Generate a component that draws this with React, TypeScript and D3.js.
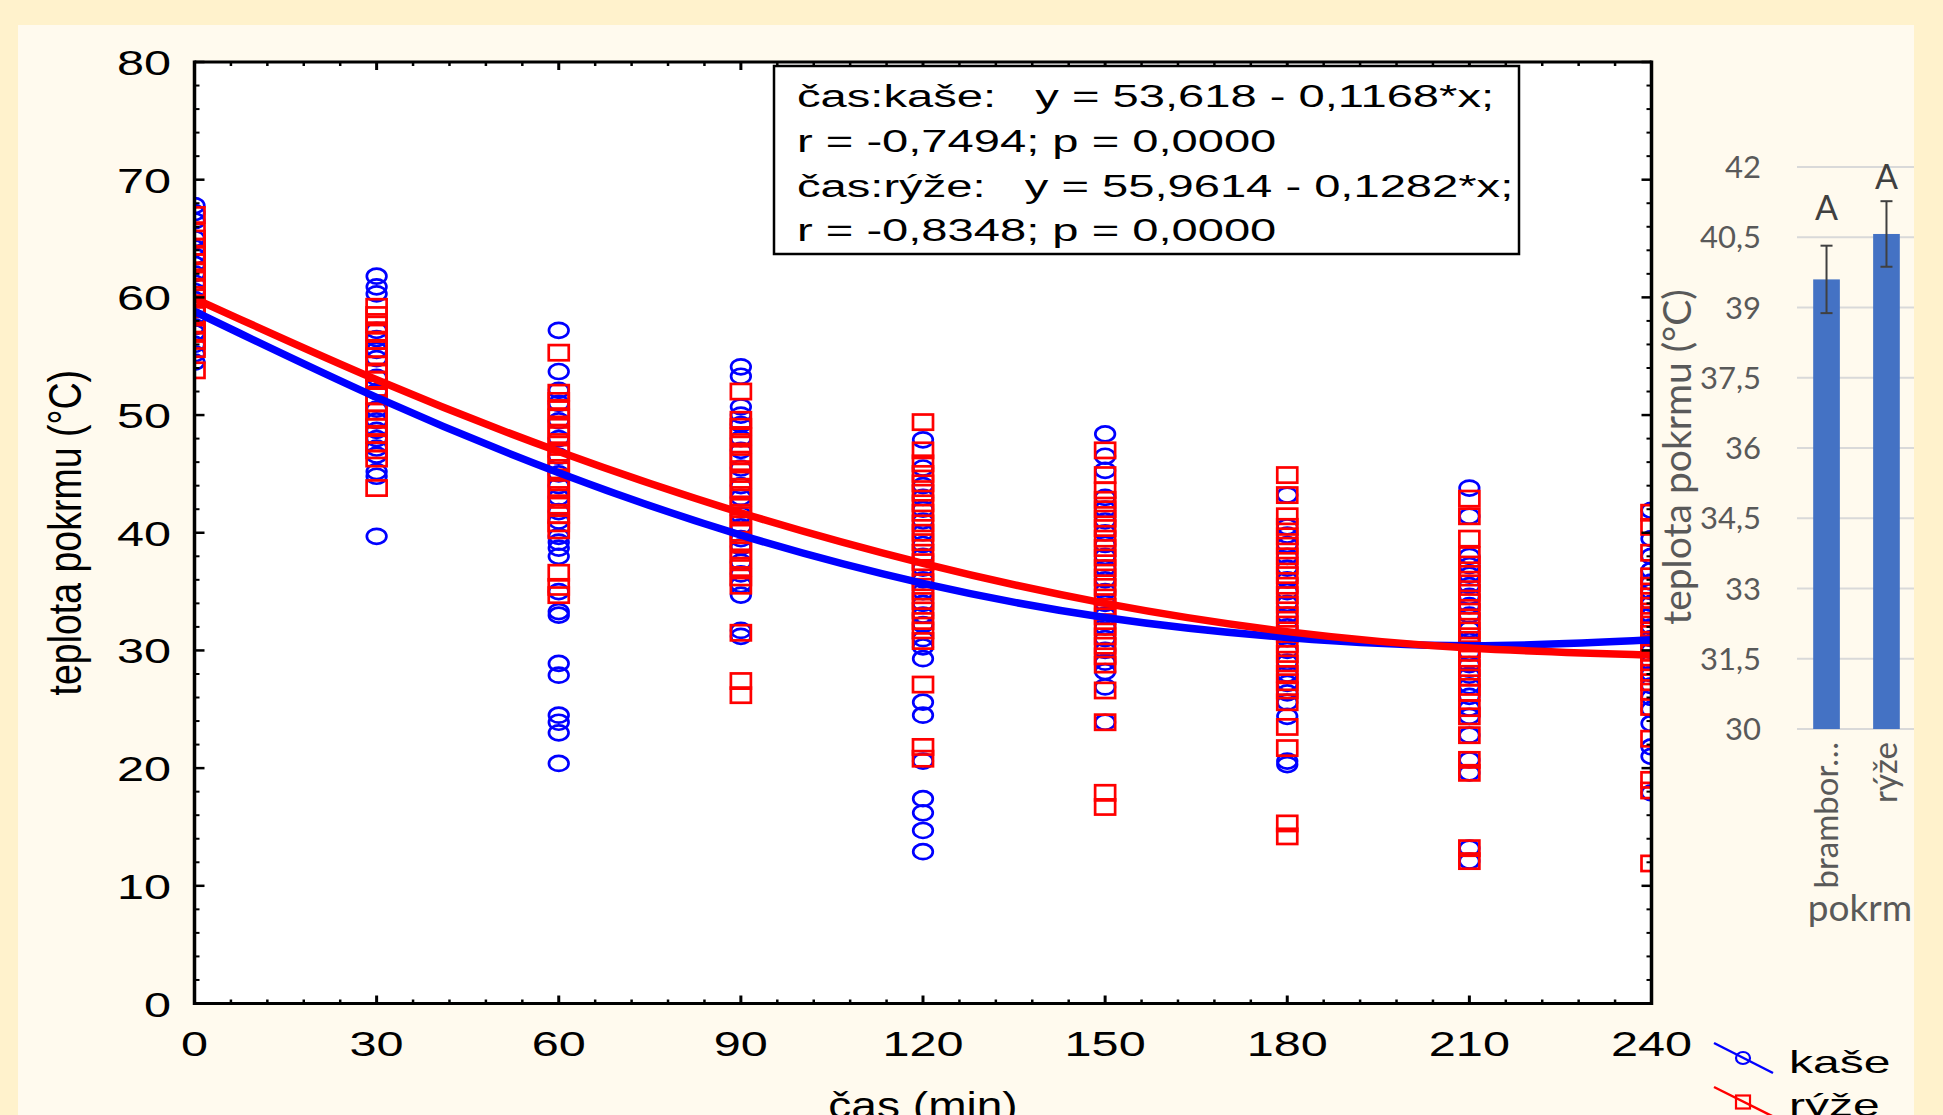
import React from 'react';
import * as d3 from 'd3';

// ---------- data ----------
const times = [0, 30, 60, 90, 120, 150, 180, 210, 240];

// individual measurements (teplota pokrmu, °C) per time point
const kaseValues: number[][] = [
  [67.8, 67.2, 66.5, 65.0, 64.2, 63.5, 62.8, 62.0, 61.2, 60.5, 59.8, 59.0, 58.3, 57.5, 57.0, 56.0, 55.2, 54.5],
  [61.8, 60.9, 60.3, 57.2, 56.5, 55.5, 54.8, 53.2, 52.0, 50.5, 49.5, 48.7, 48.0, 47.2, 46.6, 45.2, 44.8, 39.7],
  [57.2, 53.7, 52.1, 51.0, 49.5, 48.0, 46.5, 45.0, 44.0, 43.0, 41.8, 41.0, 39.7, 39.2, 38.7, 38.0, 35.0, 33.3, 33.0, 28.9, 27.9, 24.5, 23.9, 23.0, 20.4],
  [54.1, 53.3, 50.7, 50.0, 49.2, 48.0, 47.0, 45.5, 44.0, 43.0, 41.5, 40.5, 39.5, 38.8, 37.5, 36.5, 35.6, 34.7, 31.7, 31.2],
  [47.9, 45.5, 44.0, 43.0, 42.0, 41.0, 40.0, 39.0, 38.0, 37.0, 36.0, 35.0, 34.0, 33.0, 32.2, 31.0, 30.3, 29.3, 25.6, 24.5, 20.6, 17.4, 16.2, 14.7, 12.9],
  [48.4, 46.5, 45.3, 43.0, 42.0, 41.0, 40.0, 39.0, 38.0, 37.0, 36.0, 35.0, 34.0, 33.0, 32.0, 31.0, 30.0, 29.0, 28.2, 26.9, 23.9],
  [43.2, 40.5, 39.8, 39.0, 38.0, 37.0, 36.0, 35.0, 34.0, 33.0, 32.0, 31.0, 30.0, 29.0, 28.0, 27.2, 26.4, 25.6, 24.4, 20.6, 20.3],
  [43.8, 41.4, 38.0, 37.2, 36.4, 35.5, 34.6, 33.8, 33.0, 31.8, 30.8, 29.8, 28.8, 27.9, 27.0, 26.1, 25.1, 24.4, 22.8, 20.7, 19.6, 13.2, 12.1],
  [41.9, 39.5, 38.0, 36.8, 35.8, 35.0, 34.0, 33.0, 32.0, 31.0, 30.0, 29.0, 28.0, 27.0, 26.0, 25.0, 23.8, 21.8, 21.0, 17.9],
];

const ryzeValues: number[][] = [
  [67.0, 65.6, 65.0, 64.3, 63.6, 63.0, 62.2, 61.5, 60.8, 60.0, 59.3, 58.5, 57.7, 57.0, 56.3, 55.6, 53.8],
  [59.2, 58.5, 57.7, 57.0, 56.3, 55.6, 55.0, 54.3, 53.6, 53.0, 52.3, 51.6, 51.0, 50.3, 49.7, 49.0, 48.3, 47.6, 47.0, 46.3, 43.8],
  [55.3, 51.9, 51.2, 50.5, 49.8, 49.0, 48.3, 47.5, 46.8, 46.0, 45.3, 44.5, 43.8, 43.0, 42.3, 41.5, 40.8, 40.2, 36.6, 35.4, 34.7],
  [52.0, 49.6, 49.0, 48.2, 47.5, 46.7, 46.0, 45.2, 44.5, 43.7, 43.0, 42.2, 41.5, 40.7, 40.0, 39.2, 38.5, 37.7, 37.0, 36.2, 35.5, 31.5, 27.4, 26.2],
  [49.4, 47.0, 45.9, 45.0, 44.2, 43.4, 42.5, 41.7, 40.8, 40.0, 39.2, 38.3, 37.5, 36.7, 35.8, 35.0, 34.2, 33.4, 32.5, 31.7, 30.8, 27.1, 21.8, 20.8],
  [47.0, 44.9, 43.6, 42.8, 42.0, 41.2, 40.4, 39.5, 38.7, 37.9, 37.0, 36.2, 35.4, 34.5, 33.7, 32.9, 32.0, 31.2, 30.4, 29.5, 28.8, 26.6, 23.9, 17.9, 16.7],
  [44.9, 43.2, 41.4, 40.5, 39.7, 38.9, 38.0, 37.2, 36.4, 35.5, 34.7, 33.9, 33.0, 32.2, 31.4, 30.5, 29.7, 28.9, 28.0, 27.3, 26.6, 25.6, 23.5, 21.7, 15.3, 14.2],
  [42.9, 41.4, 39.5, 38.1, 37.3, 36.5, 35.7, 34.9, 34.1, 33.3, 32.5, 31.7, 30.9, 30.1, 29.3, 28.5, 27.7, 26.9, 26.4, 25.1, 24.4, 22.8, 20.7, 19.6, 13.2, 12.1],
  [41.7, 40.5, 38.3, 36.3, 35.5, 34.6, 33.8, 33.0, 32.2, 31.4, 30.6, 29.8, 29.0, 28.1, 27.3, 26.5, 25.2, 22.5, 19.0, 18.1, 11.9],
];

// fitted curves
const fitKase = [58.8, 51.5, 45.1, 39.8, 35.7, 32.8, 31.1, 30.4, 30.9];
const fitRyze = [59.9, 53.0, 46.9, 41.7, 37.4, 34.0, 31.6, 30.2, 29.6];

const yTicks = [0, 10, 20, 30, 40, 50, 60, 70, 80];
const xTicks = [0, 30, 60, 90, 120, 150, 180, 210, 240];

const statLines = [
  'čas:kaše:   y = 53,618 - 0,1168*x;',
  'r = -0,7494; p = 0,0000',
  'čas:rýže:   y = 55,9614 - 0,1282*x;',
  'r = -0,8348; p = 0,0000',
];

// inset bar chart
const pokrmCategories = ['brambor…', 'rýže'];
const pokrmMeans = [39.6, 40.57];
const pokrmErrors = [0.72, 0.7];
const pokrmLetters = ['A', 'A'];
const barTicks = [30, 31.5, 33, 34.5, 36, 37.5, 39, 40.5, 42];

// ---------- component ----------
const W = 1943;
const H = 1115;
const SF = '"Liberation Sans", Arial, sans-serif';
const EF = 'Lato, "Open Sans", sans-serif';
const SX = 1.35; // horizontal stretch of the statistica picture texts

export default function App() {
  const x = d3.scaleLinear().domain([0, 240]).range([194.5, 1651.5]);
  const y = d3.scaleLinear().domain([0, 80]).range([1003.5, 62]);
  const [x0, x1] = x.range();
  const [y0, y1] = y.range();

  const yMinor = d3.range(0, 80.001, 2).filter((v) => v % 10 !== 0);
  const xMinor = d3.range(0, 240.001, 6).filter((v) => v % 30 !== 0);

  const line = d3
    .line<number>()
    .x((_, i) => x(times[i]))
    .y((d) => y(d))
    .curve(d3.curveNatural);

  const kasePts = times.flatMap((t, i) => kaseValues[i].map((v) => [t, v] as [number, number]));
  const ryzePts = times.flatMap((t, i) => ryzeValues[i].map((v) => [t, v] as [number, number]));

  // bar chart scales
  const by = d3.scaleLinear().domain([30, 42]).range([729, 167]);
  const bx = d3.scaleBand().domain(pokrmCategories).range([1797, 1916]).paddingInner(0.555).paddingOuter(0.27);
  const letterGap = [26, 12];

  const blue = '#0000FF';
  const red = '#FF0000';

  return (
    <svg width={W} height={H} style={{ position: 'absolute', left: 0, top: 0, display: 'block' }}>
      <defs>
        <clipPath id="plotClip">
          <rect x={x0} y={y1} width={x1 - x0} height={y0 - y1} />
        </clipPath>
      </defs>
      <rect x={0} y={0} width={W} height={H} fill="#FFF2CC" />
      <rect x={18} y={25} width={1896} height={H - 25} fill="#FFFAEE" />

      {/* plot area */}
      <rect x={x0} y={y1} width={x1 - x0} height={y0 - y1} fill="#FFFFFF" />

      <g clipPath="url(#plotClip)">
        {kasePts.map(([t, v], i) => (
          <ellipse key={'k' + i} cx={x(t)} cy={y(v)} rx={9.8} ry={7.5} fill="none" stroke={blue} strokeWidth={2.7} />
        ))}
        {ryzePts.map(([t, v], i) => (
          <rect key={'r' + i} x={x(t) - 10} y={y(v) - 7.6} width={20} height={15.2} fill="none" stroke={red} strokeWidth={2.7} />
        ))}
        <path d={line(fitKase) || ''} fill="none" stroke={blue} strokeWidth={7.5} />
        <path d={line(fitRyze) || ''} fill="none" stroke={red} strokeWidth={7.5} />
      </g>

      {/* frame */}
      <line x1={x0} x2={x1} y1={y1} y2={y1} stroke="#000" strokeWidth={3} />
      <line x1={x0} x2={x1} y1={y0} y2={y0} stroke="#000" strokeWidth={3} />
      <line x1={x0} x2={x0} y1={y1 - 1.5} y2={y0 + 1.5} stroke="#000" strokeWidth={3.5} />
      <line x1={x1} x2={x1} y1={y1 - 1.5} y2={y0 + 1.5} stroke="#000" strokeWidth={3.5} />

      {/* ticks */}
      {yTicks.map((v) => (
        <g key={'yt' + v}>
          <line x1={x0} x2={x0 + 10} y1={y(v)} y2={y(v)} stroke="#000" strokeWidth={2.5} />
          <line x1={x1} x2={x1 - 10} y1={y(v)} y2={y(v)} stroke="#000" strokeWidth={2.5} />
        </g>
      ))}
      {yMinor.map((v) => (
        <g key={'ym' + v}>
          <line x1={x0} x2={x0 + 5} y1={y(v)} y2={y(v)} stroke="#000" strokeWidth={2} />
          <line x1={x1} x2={x1 - 5} y1={y(v)} y2={y(v)} stroke="#000" strokeWidth={2} />
        </g>
      ))}
      {xTicks.map((v) => (
        <g key={'xt' + v}>
          <line x1={x(v)} x2={x(v)} y1={y0} y2={y0 - 8} stroke="#000" strokeWidth={3} />
          <line x1={x(v)} x2={x(v)} y1={y1} y2={y1 + 8} stroke="#000" strokeWidth={3} />
        </g>
      ))}
      {xMinor.map((v) => (
        <g key={'xm' + v}>
          <line x1={x(v)} x2={x(v)} y1={y0} y2={y0 - 4} stroke="#000" strokeWidth={2.5} />
          <line x1={x(v)} x2={x(v)} y1={y1} y2={y1 + 4} stroke="#000" strokeWidth={2.5} />
        </g>
      ))}

      {/* tick labels */}
      {yTicks.map((v) => (
        <text key={'yl' + v} transform={`translate(171,${y(v) + 13}) scale(${SX},1)`} textAnchor="end" fontFamily={SF} fontSize={36} fill="#000">
          {v}
        </text>
      ))}
      {xTicks.map((v) => (
        <text key={'xl' + v} transform={`translate(${x(v)},${1056}) scale(${SX},1)`} textAnchor="middle" fontFamily={SF} fontSize={36} fill="#000">
          {v}
        </text>
      ))}

      {/* axis titles */}
      <text transform={`translate(${(x0 + x1) / 2},1118) scale(1.28,1)`} textAnchor="middle" fontFamily={SF} fontSize={36} fill="#000">
        čas (min)
      </text>
      <text transform={`translate(81,${(y0 + y1) / 2}) rotate(-90) scale(1,1.22)`} textAnchor="middle" fontFamily={SF} fontSize={37.5} fill="#000">
        teplota pokrmu (°C)
      </text>

      {/* regression box */}
      <rect x={774} y={66} width={745} height={188} fill="#FFFFFF" stroke="#000" strokeWidth={2.5} />
      {statLines.map((s, i) => (
        <text key={'st' + i} transform={`translate(797,${107.3 + i * 44.6}) scale(1.52,1)`} fontFamily={SF} fontSize={31} fill="#000" style={{ whiteSpace: 'pre' }}>
          {s}
        </text>
      ))}

      {/* bottom-right legend */}
      <line x1={1714} y1={1043} x2={1773} y2={1073} stroke={blue} strokeWidth={2.5} />
      <ellipse cx={1743} cy={1058} rx={7} ry={6} fill="none" stroke={blue} strokeWidth={2.2} />
      <text transform="translate(1789,1073) scale(1.55,1)" fontFamily={SF} fontSize={31} fill="#000">
        kaše
      </text>
      <line x1={1714} y1={1087} x2={1774} y2={1117} stroke={red} strokeWidth={2.5} />
      <rect x={1736} y={1095.5} width={14} height={13} fill="none" stroke={red} strokeWidth={2.2} />
      <text transform="translate(1789,1116) scale(1.55,1)" fontFamily={SF} fontSize={31} fill="#000">
        rýže
      </text>

      {/* inset bar chart */}
      {barTicks.map((v) => (
        <g key={'bt' + v}>
          <line x1={1797} x2={1914} y1={by(v)} y2={by(v)} stroke="#D9D9D9" strokeWidth={2} />
          <text x={1761} y={by(v) + 11} textAnchor="end" fontFamily={EF} fontSize={31} fill="#595959">
            {String(v).replace('.', ',')}
          </text>
        </g>
      ))}
      {pokrmCategories.map((c, i) => {
        const cx = (bx(c) || 0) + bx.bandwidth() / 2;
        const top = by(pokrmMeans[i]);
        const eTop = by(pokrmMeans[i] + pokrmErrors[i]);
        const eBot = by(pokrmMeans[i] - pokrmErrors[i]);
        return (
          <g key={'bar' + c}>
            <rect x={bx(c)} y={top} width={bx.bandwidth()} height={by(30) - top} fill="#4472C4" />
            <line x1={cx} x2={cx} y1={eTop} y2={eBot} stroke="#404040" strokeWidth={2} />
            <line x1={cx - 6} x2={cx + 6} y1={eTop} y2={eTop} stroke="#404040" strokeWidth={2} />
            <line x1={cx - 6} x2={cx + 6} y1={eBot} y2={eBot} stroke="#404040" strokeWidth={2} />
            <text x={cx} y={eTop - letterGap[i]} textAnchor="middle" fontFamily={EF} fontSize={34} fill="#404040">
              {pokrmLetters[i]}
            </text>
            <text transform={`translate(${cx + 11},742) rotate(-90)`} textAnchor="end" fontFamily={EF} fontSize={33} fill="#595959">
              {c}
            </text>
          </g>
        );
      })}
      <text transform="translate(1691,457) rotate(-90)" textAnchor="middle" fontFamily={EF} fontSize={39} fill="#595959">
        teplota pokrmu (°C)
      </text>
      <text x={1860} y={921} textAnchor="middle" fontFamily={EF} fontSize={37} fill="#595959">
        pokrm
      </text>
    </svg>
  );
}
